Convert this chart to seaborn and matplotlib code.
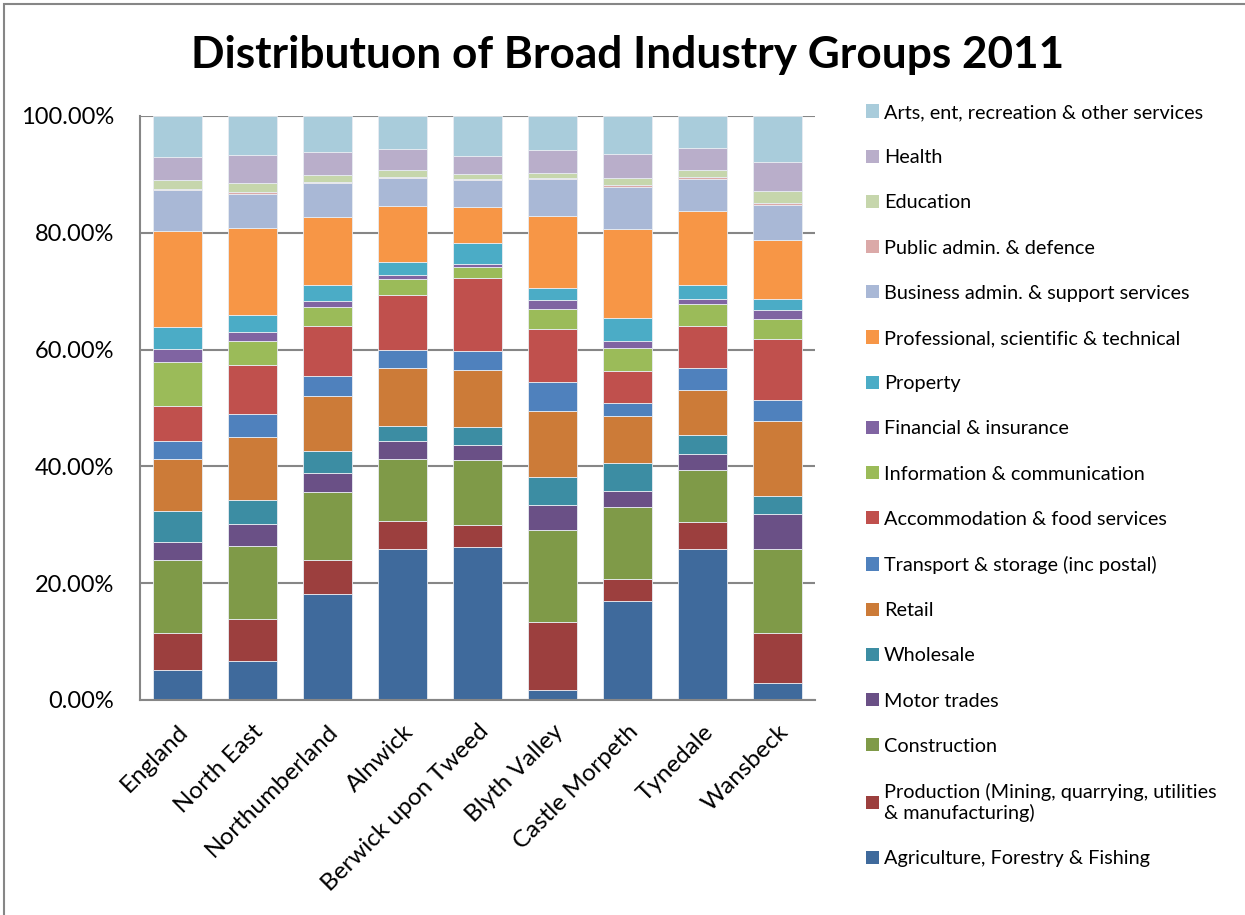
import matplotlib
matplotlib.use("Agg")
import matplotlib.pyplot as plt
import seaborn as sns
import pandas as pd
from matplotlib.patches import Patch, Rectangle
from matplotlib.ticker import FuncFormatter

# areas along the x axis
areas = ["England", "North East", "Northumberland", "Alnwick", "Berwick upon Tweed",
         "Blyth Valley", "Castle Morpeth", "Tynedale", "Wansbeck"]

# share of employment (%) per industry group, bottom of the stack first
agriculture = [5.1, 6.6, 18.1, 25.8, 26.2, 1.7, 16.9, 25.8, 2.9]
production = [6.3, 7.2, 5.8, 4.9, 3.7, 11.6, 3.8, 4.7, 8.5]
construction = [12.5, 12.5, 11.7, 10.6, 11.2, 15.8, 12.3, 8.9, 14.4]
motor = [3.2, 3.8, 3.3, 3.0, 2.5, 4.3, 2.8, 2.7, 6.0]
wholesale = [5.3, 4.1, 3.7, 2.7, 3.2, 4.8, 4.7, 3.3, 3.1]
retail = [8.9, 10.9, 9.5, 9.9, 9.7, 11.3, 8.2, 7.7, 12.9]
transport = [3.1, 3.9, 3.4, 3.0, 3.3, 4.9, 2.2, 3.8, 3.5]
accommodation = [5.9, 8.3, 8.5, 9.4, 12.4, 9.1, 5.4, 7.1, 10.5]
information = [7.6, 4.2, 3.3, 2.8, 2.0, 3.5, 3.9, 3.8, 3.5]
financial = [2.2, 1.5, 1.0, 0.6, 0.5, 1.5, 1.3, 0.8, 1.4]
property_ = [3.7, 2.9, 2.8, 2.3, 3.6, 2.1, 3.9, 2.5, 2.0]
professional = [16.5, 15.0, 11.6, 9.6, 6.1, 12.3, 15.3, 12.7, 10.0]
business = [7.0, 5.8, 5.8, 4.8, 4.7, 6.3, 7.2, 5.4, 6.0]
public_admin = [0.2, 0.3, 0.2, 0.1, 0.1, 0.1, 0.2, 0.3, 0.4]
education = [1.6, 1.6, 1.2, 1.2, 0.8, 1.0, 1.2, 1.3, 2.1]
health = [3.9, 4.7, 4.0, 3.7, 3.2, 3.8, 4.2, 3.8, 5.0]
arts = [7.0, 6.7, 6.1, 5.6, 6.8, 5.9, 6.5, 5.4, 7.8]

groups = [
    ("Agriculture, Forestry & Fishing", agriculture, "#3F6A9C"),
    ("Production (Mining, quarrying, utilities\n& manufacturing)", production, "#9C3F3E"),
    ("Construction", construction, "#7F9A48"),
    ("Motor trades", motor, "#6A5086"),
    ("Wholesale", wholesale, "#3C8DA3"),
    ("Retail", retail, "#CC7B38"),
    ("Transport & storage (inc postal)", transport, "#4F81BD"),
    ("Accommodation & food services", accommodation, "#C0504D"),
    ("Information & communication", information, "#9BBB59"),
    ("Financial & insurance", financial, "#8064A2"),
    ("Property", property_, "#4BACC6"),
    ("Professional, scientific & technical", professional, "#F79646"),
    ("Business admin. & support services", business, "#A9B8D6"),
    ("Public admin. & defence", public_admin, "#DBA9A8"),
    ("Education", education, "#C6D6AC"),
    ("Health", health, "#B9AECA"),
    ("Arts, ent, recreation & other services", arts, "#A9CCDB"),
]

rows = []
for name, vals, _ in groups:
    for area, v in zip(areas, vals):
        rows.append({"area": area, "group": name, "share": v})
df = pd.DataFrame(rows)
df["area"] = pd.Categorical(df["area"], categories=areas, ordered=True)

# top-to-bottom order (seaborn stacks the first hue level on top)
hue_order = [g[0] for g in groups][::-1]
palette = {g[0]: g[2] for g in groups}

sns.set_style("white")
plt.rcParams["font.family"] = ["Lato", "DejaVu Sans"]
plt.rcParams["text.color"] = "black"
plt.rcParams["xtick.color"] = "black"
plt.rcParams["ytick.color"] = "black"

fig = plt.figure(figsize=(12.45, 9.15), dpi=100)
ax = fig.add_axes([140 / 1245, 215 / 915, 675 / 1245, 584 / 915])

sns.histplot(data=df, x="area", weights="share", hue="group", hue_order=hue_order,
             palette=palette, multiple="stack", discrete=True, shrink=0.65,
             alpha=1, edgecolor="#E8ECF2", linewidth=0.6, legend=False, ax=ax)

ax.set_xlim(-0.5, len(areas) - 0.5)
ax.set_ylim(0, 100)
ax.set_yticks([0, 20, 40, 60, 80, 100])
ax.yaxis.set_major_formatter(FuncFormatter(lambda v, p: f"{v:.2f}%"))
ax.grid(axis="y", color="#868686", linewidth=1.5)
ax.set_axisbelow(True)
ax.set_xlabel("")
ax.set_ylabel("")
ax.set_xticks(range(len(areas)))
ax.set_xticklabels(areas, rotation=45, ha="right", va="top", rotation_mode="anchor",
                   fontsize=17.5)
ax.tick_params(axis="y", labelsize=17, length=0, pad=18.5)
ax.tick_params(axis="x", length=0, pad=15)
for s in ["top", "right"]:
    ax.spines[s].set_visible(False)
for s in ["left", "bottom"]:
    ax.spines[s].set_color("#868686")
    ax.spines[s].set_linewidth(1.5)

handles = [Patch(facecolor=palette[n], edgecolor="none") for n in hue_order]
leg = fig.legend(handles, hue_order, loc="upper left", bbox_to_anchor=(858 / 1245, 1 - 96 / 915),
                 frameon=False, fontsize=14.3, handlelength=0.65, handleheight=0.65,
                 handletextpad=0.25, labelspacing=1.42, borderaxespad=0)

fig.suptitle("Distributuon of Broad Industry Groups 2011", x=628 / 1245, y=1 - 55 / 915,
             va="center", fontsize=31.8, fontweight="bold")

fig.patches.append(Rectangle((4 / 1245, -0.01), 1.1, 1 - 4 / 915 + 0.01, transform=fig.transFigure,
                             fill=False, edgecolor="#868686", linewidth=1.5))

fig.savefig("out.png", dpi=100)
